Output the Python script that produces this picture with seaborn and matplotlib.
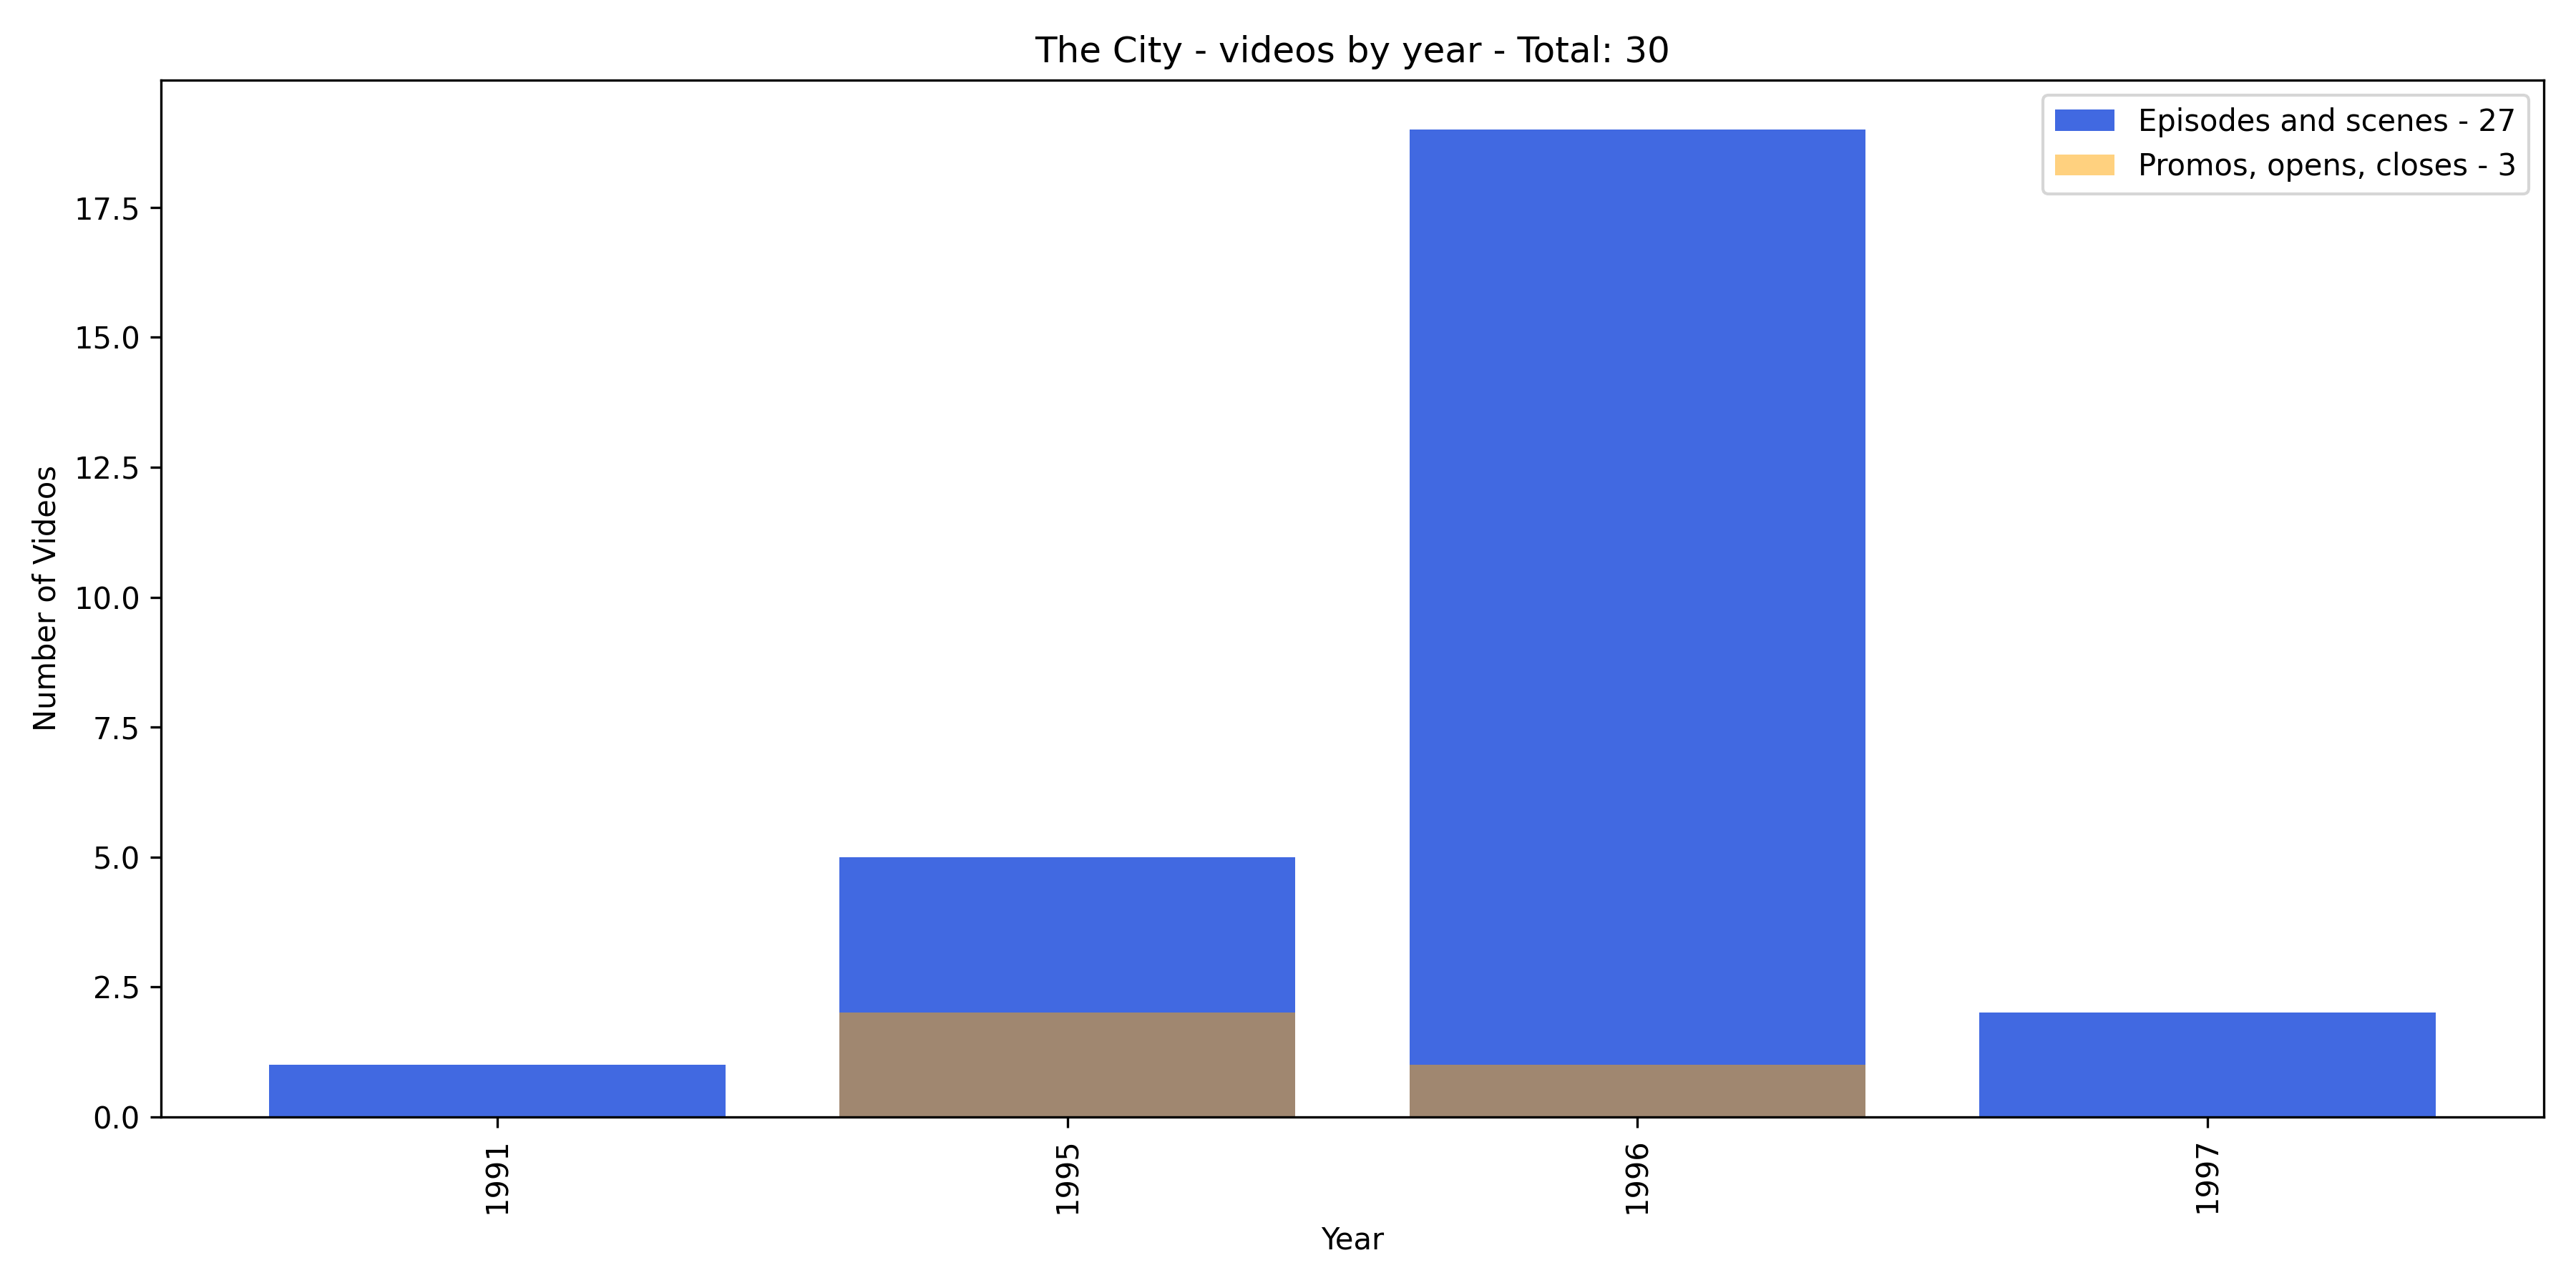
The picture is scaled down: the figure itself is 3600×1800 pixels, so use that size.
import matplotlib
matplotlib.use("Agg")
import matplotlib.pyplot as plt
import seaborn as sns
import pandas as pd

# data
years = ["1991", "1995", "1996", "1997"]
episodes = [1, 5, 19, 2]
promos = [0, 2, 1, 0]

df = pd.DataFrame({"Year": years, "Episodes": episodes, "Promos": promos})

fig, ax = plt.subplots(figsize=(12, 6))

sns.barplot(data=df, x="Year", y="Episodes", order=years, color="royalblue",
            saturation=1, width=0.8, label=f"Episodes and scenes - {sum(episodes)}", ax=ax)
sns.barplot(data=df, x="Year", y="Promos", order=years, color="orange",
            saturation=1, alpha=0.5, width=0.8, label=f"Promos, opens, closes - {sum(promos)}", ax=ax)

ax.set_title(f"The City - videos by year - Total: {sum(episodes) + sum(promos)}")
ax.set_xlabel("Year")
ax.set_ylabel("Number of Videos")
ax.tick_params(axis="x", rotation=90)
# plain matplotlib-style margins around the bars
ax.set_xlim(-0.59, len(years) - 1 + 0.59)
ax.set_ylim(0, max(episodes) * 1.05)
ax.legend(loc="upper right")

plt.tight_layout()
plt.savefig("out.png", dpi=300)
plt.close()
